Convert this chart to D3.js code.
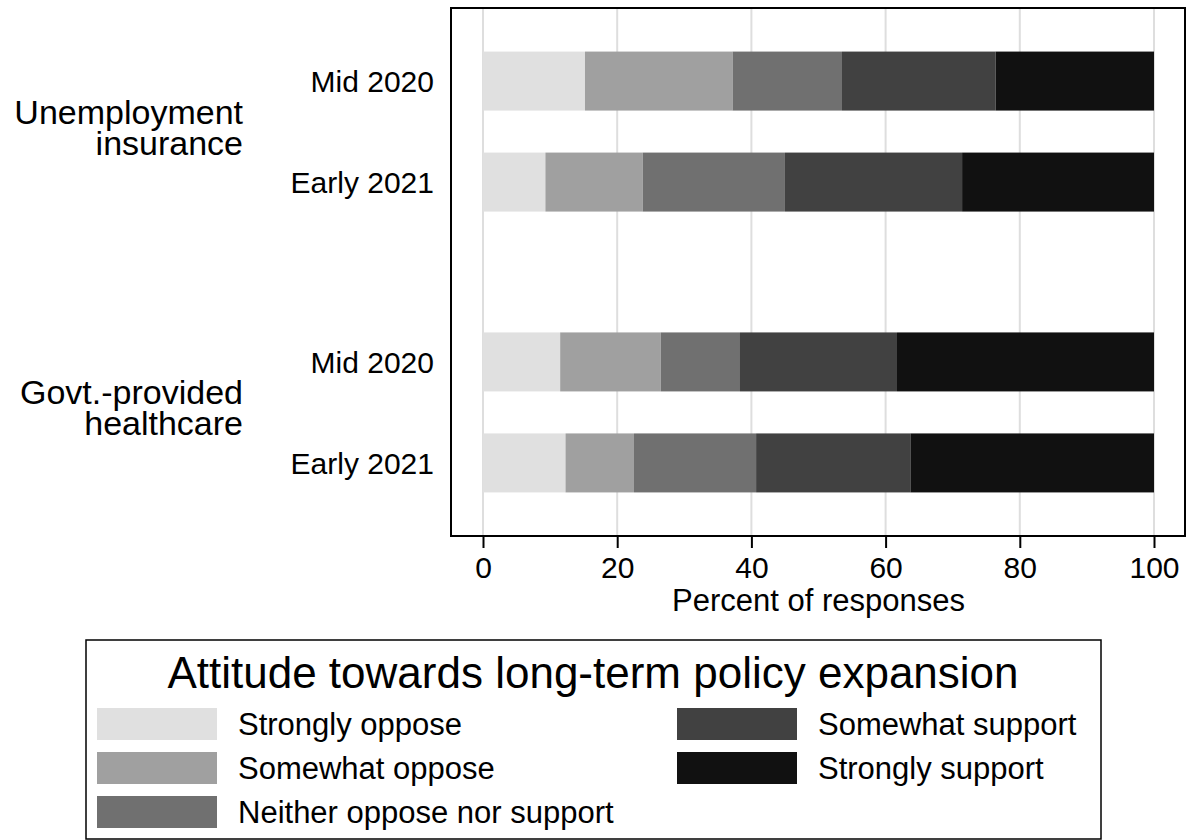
<!DOCTYPE html>
<html>
<head>
<meta charset="utf-8">
<script src="https://cdn.jsdelivr.net/npm/d3@7"></script>
<style>
    body { margin: 0; background: white; }
    svg { font-family: 'Liberation Sans', Arial, sans-serif; }
</style>
</head>
<body>
<script>
const groups = ['Unemployment insurance', 'Govt.-provided healthcare'],
    groupLines = [['Unemployment', 'insurance'], ['Govt.-provided', 'healthcare']],
    periods = ['Mid 2020', 'Early 2021'],
    responses = ['Strongly oppose', 'Somewhat oppose', 'Neither oppose nor support', 'Somewhat support', 'Strongly support'],
    shades = ['#e0e0e0', '#a0a0a0', '#707070', '#414141', '#111111'],
    xTicks = [0, 20, 40, 60, 80, 100];

// percent per bar, order: UI mid 2020, UI early 2021, HC mid 2020, HC early 2021
const stronglyOppose = [15.2, 9.3, 11.5, 12.3],
    somewhatOppose = [22.0, 14.5, 15.0, 10.2],
    neither = [16.3, 21.2, 11.8, 18.2],
    somewhatSupport = [22.9, 26.4, 23.4, 23.0],
    stronglySupport = [23.6, 28.6, 38.3, 36.3];

const series = [stronglyOppose, somewhatOppose, neither, somewhatSupport, stronglySupport];

const width = 1188,
    height = 840,
    frame = { left: 451, right: 1185, top: 8, bottom: 536 },
    barHeight = 59;

const rows = [];
groups.forEach((g, gi) => {
    periods.forEach((p, pi) => {
        const row = { group: g, period: p };
        responses.forEach((r, ri) => { row[r] = series[ri][gi * periods.length + pi]; });
        rows.push(row);
    });
});

const stacked = d3.stack().keys(responses)(rows);

const x = d3.scaleLinear().domain([0, 100]).range([483, 1154]),
    yGroup = d3.scalePoint().domain(groups).range([frame.top, frame.bottom]).padding(0.44),
    yPeriod = d3.scalePoint().domain(periods).range([-50.5, 50.5]);

function barY(d) {
    return yGroup(d.data.group) + yPeriod(d.data.period);
}

const svg = d3.select('body').append('svg')
    .attr('width', width)
    .attr('height', height);

// grid
svg.append('g').selectAll('line')
    .data(xTicks)
    .enter()
    .append('line')
    .attr('x1', d => x(d))
    .attr('x2', d => x(d))
    .attr('y1', frame.top)
    .attr('y2', frame.bottom)
    .attr('stroke', '#dedede')
    .attr('stroke-width', 2);

// bars
svg.append('g').selectAll('g')
    .data(stacked)
    .enter()
    .append('g')
    .attr('fill', (d, i) => shades[i])
    .selectAll('rect')
    .data(d => d)
    .enter()
    .append('rect')
    .attr('x', d => x(d[0]))
    .attr('width', d => x(d[1]) - x(d[0]))
    .attr('y', d => barY(d) - barHeight / 2)
    .attr('height', barHeight);

// frame
svg.append('rect')
    .attr('x', frame.left)
    .attr('y', frame.top)
    .attr('width', frame.right - frame.left)
    .attr('height', frame.bottom - frame.top)
    .attr('fill', 'none')
    .attr('stroke', 'black')
    .attr('stroke-width', 2);

// x axis
const xAxis = svg.append('g')
    .attr('transform', 'translate(0,' + frame.bottom + ')')
    .call(d3.axisBottom(x).tickValues(xTicks).tickSize(12).tickPadding(9));

xAxis.select('.domain').remove();
xAxis.selectAll('line').attr('stroke-width', 2);
xAxis.selectAll('text')
    .attr('font-size', 30)
    .attr('font-family', null)
    .attr('fill', 'black');

svg.append('text')
    .text('Percent of responses')
    .attr('x', (x(0) + x(100)) / 2)
    .attr('y', 611)
    .attr('text-anchor', 'middle')
    .attr('font-size', 31);

// period labels
svg.append('g').selectAll('text')
    .data(rows)
    .enter()
    .append('text')
    .text(d => d.period)
    .attr('x', 434)
    .attr('y', d => yGroup(d.group) + yPeriod(d.period))
    .attr('dy', '0.36em')
    .attr('text-anchor', 'end')
    .attr('font-size', 30);

// group labels
svg.append('g').selectAll('text')
    .data(groups)
    .enter()
    .append('text')
    .attr('text-anchor', 'end')
    .attr('font-size', 34)
    .each(function (g, i) {
        const t = d3.select(this);
        groupLines[i].forEach((line, li) => {
            t.append('tspan')
                .text(line)
                .attr('x', 243)
                .attr('y', yGroup(g) - 8 + li * 31);
        });
    });

// legend
const legend = svg.append('g');

legend.append('rect')
    .attr('x', 86)
    .attr('y', 640)
    .attr('width', 1015)
    .attr('height', 199)
    .attr('fill', 'white')
    .attr('stroke', 'black')
    .attr('stroke-width', 1.5);

legend.append('text')
    .text('Attitude towards long-term policy expansion')
    .attr('x', 593)
    .attr('y', 688)
    .attr('text-anchor', 'middle')
    .attr('font-size', 44);

const items = legend.selectAll('g.item')
    .data(responses)
    .enter()
    .append('g')
    .classed('item', true)
    .attr('transform', (d, i) => 'translate(' + (i < 3 ? 97 : 677) + ',' + (708 + (i % 3) * 44) + ')');

items.append('rect')
    .attr('width', 120)
    .attr('height', 32)
    .attr('fill', (d, i) => shades[i]);

items.append('text')
    .text(d => d)
    .attr('x', 141)
    .attr('y', 16)
    .attr('dy', '0.36em')
    .attr('font-size', 31);
</script>
</body>
</html>
